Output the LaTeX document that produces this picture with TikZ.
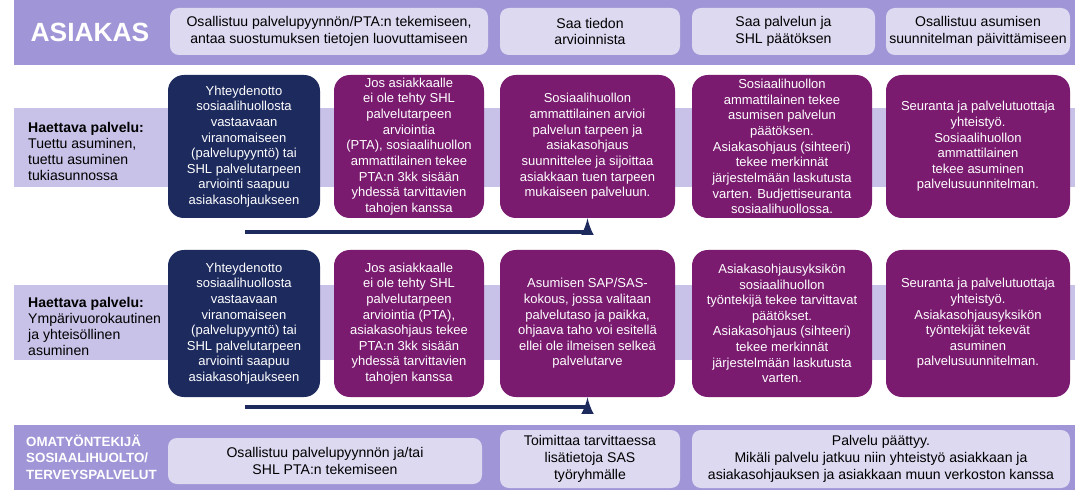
\documentclass[tikz,border=0pt]{standalone}
\usepackage{fontspec}
\setmainfont{Liberation Sans}
\usetikzlibrary{positioning}
\definecolor{bandDark}{HTML}{A095D6}
\definecolor{bandLight}{HTML}{C9C2E8}
\definecolor{boxLight}{HTML}{DDD9F1}
\definecolor{navyBox}{HTML}{1D2A5E}
\definecolor{plumBox}{HTML}{7A1B6F}
\tikzset{
  band/.style={fill=#1, draw=none},
  hbox/.style={fill=boxLight, rounded corners=5pt, align=center, text=black,
    font=\fontsize{8}{9.6}\selectfont, inner sep=0pt},
  step/.style={fill=#1, rounded corners=9pt, align=center, text=white,
    font=\fontsize{7.4}{8.9}\selectfont, inner sep=0pt},
  flow/.style={draw=navyBox, line width=2.2pt, ->, >=latex}
}
\begin{document}
\begin{tikzpicture}[x=0.02cm, y=-0.02cm]
	\useasboundingbox (0,0) rectangle (1090,500);
	% bands
	\fill[band=bandDark] (14,0) rectangle (1075,65);
	\fill[band=bandLight] (14,108) rectangle (1075,187);
	\fill[band=bandLight] (14,285) rectangle (1075,360);
	\fill[band=bandDark] (14,425) rectangle (1075,490);
	
	\node (asiakas) at (90,32) [text=white, font=\fontsize{15}{16}\bfseries\selectfont] {ASIAKAS};
	\node (h1) [hbox, minimum width=318*0.02cm, minimum height=47*0.02cm] at (329,31.5) {Osallistuu palvelupyynnön/PTA:n tekemiseen,\\antaa suostumuksen tietojen luovuttamiseen};
	\node (h2) [hbox, minimum width=180*0.02cm, minimum height=47*0.02cm] at (590,31.5) {Saa tiedon\\arvioinnista};
	\node (h3) [hbox, minimum width=183*0.02cm, minimum height=47*0.02cm] at (783.5,31.5) {Saa palvelun ja\\SHL päätöksen};
	\node (h4) [hbox, minimum width=184*0.02cm, minimum height=47*0.02cm] at (978,31.5) {Osallistuu asumisen\\suunnitelman päivittämiseen};
	
	% row 1
	\node (lab1) [anchor=north west, align=left, font=\fontsize{8}{9.2}\selectfont] at (22,116) {\textbf{Haettava palvelu:}\\Tuettu asuminen,\\tuettu asuminen\\tukiasunnossa};
	\node (a1) [step=navyBox, minimum width=152*0.02cm, minimum height=143*0.02cm] at (244,146.5) {Yhteydenotto\\sosiaalihuollosta\\vastaavaan\\viranomaiseen\\(palvelupyyntö) tai\\SHL palvelutarpeen\\arviointi saapuu\\asiakasohjaukseen};
	\node (a2) [step=plumBox, minimum width=150*0.02cm, minimum height=143*0.02cm] at (409,146.5) {Jos asiakkaalle\\ei ole tehty SHL\\palvelutarpeen\\arviointia\\(PTA), sosiaalihuollon\\ammattilainen tekee\\PTA:n 3kk sisään\\yhdessä tarvittavien\\tahojen kanssa};
	\node (a3) [step=plumBox, minimum width=175*0.02cm, minimum height=143*0.02cm] at (587.5,146.5) {Sosiaalihuollon\\ammattilainen arvioi\\palvelun tarpeen ja\\asiakasohjaus\\suunnittelee ja sijoittaa\\asiakkaan tuen tarpeen\\mukaiseen palveluun.};
	\node (a4) [step=plumBox, minimum width=180*0.02cm, minimum height=143*0.02cm] at (782,146.5) {Sosiaalihuollon\\ammattilainen tekee\\asumisen palvelun\\päätöksen.\\Asiakasohjaus (sihteeri)\\tekee merkinnät\\järjestelmään laskutusta\\varten. Budjettiseuranta\\sosiaalihuollossa.};
	\node (a5) [step=plumBox, minimum width=184*0.02cm, minimum height=143*0.02cm] at (978,146.5) {Seuranta ja palvelutuottaja\\yhteistyö.\\Sosiaalihuollon\\ammattilainen\\tekee asuminen\\palvelusuunnitelman.};
	\coordinate (s1) at (245,232);
	\draw[flow] (s1) -| (a3.south);
	
	% row 2
	\node (lab2) [anchor=north west, align=left, font=\fontsize{8}{9.2}\selectfont] at (22,291) {\textbf{Haettava palvelu:}\\Ympärivuorokautinen\\ja yhteisöllinen\\asuminen};
	\node (b1) [step=navyBox, minimum width=152*0.02cm, minimum height=147*0.02cm] at (244,323.5) {Yhteydenotto\\sosiaalihuollosta\\vastaavaan\\viranomaiseen\\(palvelupyyntö) tai\\SHL palvelutarpeen\\arviointi saapuu\\asiakasohjaukseen};
	\node (b2) [step=plumBox, minimum width=150*0.02cm, minimum height=147*0.02cm] at (409,323.5) {Jos asiakkaalle\\ei ole tehty SHL\\palvelutarpeen\\arviointia (PTA),\\asiakasohjaus tekee\\PTA:n 3kk sisään\\yhdessä tarvittavien\\tahojen kanssa};
	\node (b3) [step=plumBox, minimum width=175*0.02cm, minimum height=147*0.02cm] at (587.5,323.5) {Asumisen SAP/SAS-\\kokous, jossa valitaan\\palvelutaso ja paikka,\\ohjaava taho voi esitellä\\ellei ole ilmeisen selkeä\\palvelutarve};
	\node (b4) [step=plumBox, minimum width=180*0.02cm, minimum height=147*0.02cm] at (782,323.5) {Asiakasohjausyksikön\\sosiaalihuollon\\työntekijä tekee tarvittavat\\päätökset.\\Asiakasohjaus (sihteeri)\\tekee merkinnät\\järjestelmään laskutusta\\varten.};
	\node (b5) [step=plumBox, minimum width=184*0.02cm, minimum height=147*0.02cm] at (978,323.5) {Seuranta ja palvelutuottaja\\yhteistyö.\\Asiakasohjausyksikön\\työntekijät tekevät\\asuminen\\palvelusuunnitelman.};
	\coordinate (s2) at (245,407);
	\draw[flow] (s2) -| (b3.south);
	
	% bottom
	\node (omat) [anchor=west, align=left, text=white, font=\fontsize{7.6}{9.4}\bfseries\selectfont] at (20,457) {OMATYÖNTEKIJÄ\\SOSIAALIHUOLTO/\\TERVEYSPALVELUT};
	\node (c1) [hbox, minimum width=314*0.02cm, minimum height=46*0.02cm] at (325,461) {Osallistuu palvelupyynnön ja/tai\\SHL PTA:n tekemiseen};
	\node (c2) [hbox, minimum width=180*0.02cm, minimum height=58*0.02cm] at (590,459) {Toimittaa tarvittaessa\\lisätietoja SAS\\työryhmälle};
	\node (c3) [hbox, minimum width=378*0.02cm, minimum height=58*0.02cm] at (881,459) {Palvelu päättyy.\\Mikäli palvelu jatkuu niin yhteistyö asiakkaan ja\\asiakasohjauksen ja asiakkaan muun verkoston kanssa};
\end{tikzpicture}
\end{document}
